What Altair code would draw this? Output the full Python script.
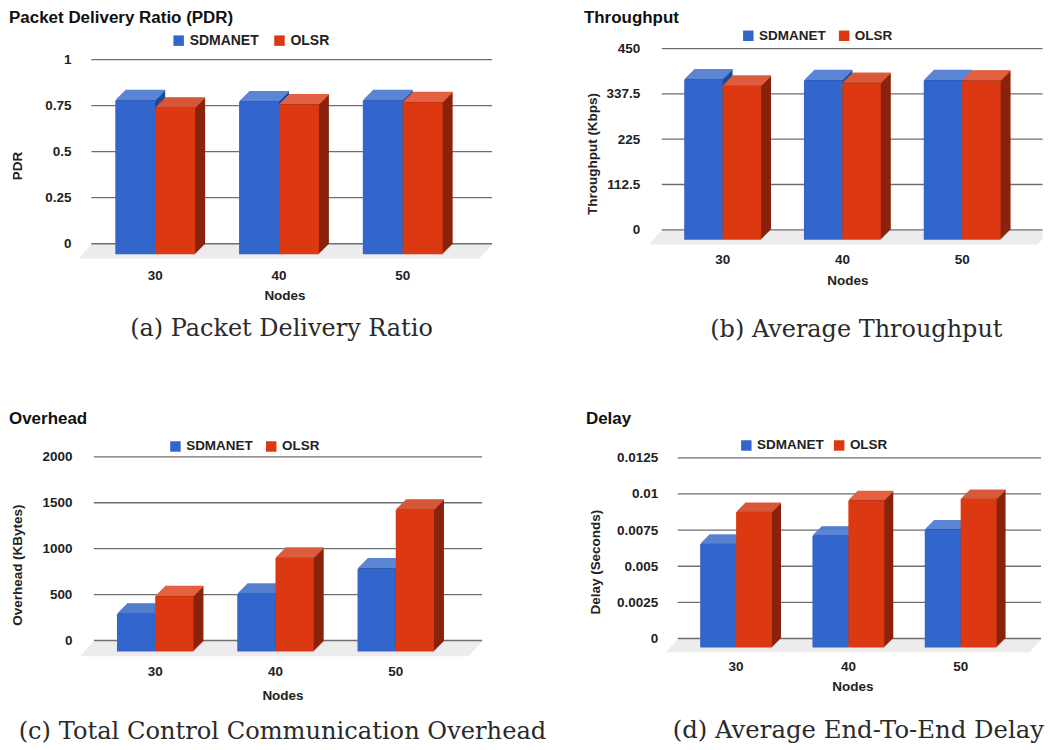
import altair as alt
import pandas as pd

nodes = ["30", "40", "50"]
series = ["SDMANET", "OLSR"]

pdr_sdmanet = [0.835, 0.829, 0.835]
pdr_olsr = [0.795, 0.813, 0.825]
pdr_ticks = [0, 0.25, 0.5, 0.75, 1]

tput_sdmanet = [398, 396, 396]
tput_olsr = [382, 389, 395]
tput_ticks = [0, 112.5, 225, 337.5, 450]

ovh_sdmanet = [410, 627, 902]
ovh_olsr = [601, 1018, 1543]
ovh_ticks = [0, 500, 1000, 1500, 2000]

delay_sdmanet = [0.00716, 0.00773, 0.00815]
delay_olsr = [0.00937, 0.01017, 0.01027]
delay_ticks = [0, 0.0025, 0.005, 0.0075, 0.01, 0.0125]

BLUE, BLUE_TOP, BLUE_SIDE = "#3366cc", "#5c85d6", "#1f4a96"
RED, RED_TOP, RED_SIDE = "#dc3912", "#e36041", "#8a230c"
FONT = "Liberation Sans"
SERIF = "DejaVu Serif"
INK = "#222222"
GRID = "#6f6f6f"
FLOOR = "#ececec"

FRAME_W = [560, 477]
FRAME_H = [242, 250]
ORIGIN_X = [8, 568]
ORIGIN_Y = [8, 400]
RIGHT_LIMIT = 1044.5


def panel(col, row, sd, ol, ticks, title, ylabel, caption, L):
    ox, oy = ORIGIN_X[col], ORIGIN_Y[row]
    W, H = FRAME_W[col], FRAME_H[row]
    x0, x1 = L["gx"][0] - ox, L["gx"][1] - ox
    gx1 = min(L["gx"][1], RIGHT_LIMIT) - ox
    ytop, yzero = L["gy"][0] - oy, L["gy"][1] - oy
    step, bw = L["step"], L["bw"]
    fx, fy, dx, dy = L["fx"], L["fy"], L["dx"], L["dy"]

    df = pd.DataFrame(
        {
            "node": nodes * 2,
            "series": [series[0]] * 3 + [series[1]] * 3,
            "v": list(sd) + list(ol),
        }
    )
    tick_df = pd.DataFrame({"t": ticks})

    pad_outer = ((x1 - x0) - 3 * step) / (2 * step)
    pad_off = (step / bw - 2) / 2

    x_axis = alt.Axis(
        title="Nodes",
        domain=False,
        ticks=False,
        grid=False,
        labelAngle=0,
        labelPadding=L["xlab"] - 6 - H - oy,
        labelFont=FONT,
        labelFontWeight="bold",
        labelFontSize=13.5,
        labelColor=INK,
        titleFont=FONT,
        titleFontWeight="bold",
        titleFontSize=13.5,
        titleColor=INK,
        titleX=L["nodes"][0] - ox,
        titleY=L["nodes"][1] - oy - H - 6,
    )
    y_axis = alt.Axis(
        title=ylabel,
        values=ticks,
        labelExpr="'' + datum.value",
        domain=False,
        ticks=False,
        grid=False,
        offset=-(L["ylab"] - ox),
        labelPadding=0,
        labelFont=FONT,
        labelFontWeight="bold",
        labelFontSize=13.5,
        labelColor=INK,
        titleFont=FONT,
        titleFontWeight="bold",
        titleFontSize=13.5,
        titleColor=INK,
        titleX=L["ytitle"][0] - L["ylab"] + 8.5,
        titleY=L["ytitle"][1] - oy,
    )

    def xenc(shift, axis=None):
        return alt.X(
            "node:N",
            sort=nodes,
            scale=alt.Scale(
                range=[x0 + shift, x1 + shift], paddingInner=0, paddingOuter=pad_outer
            ),
            axis=axis,
        )

    def yenc(shift):
        return alt.Y(
            "v:Q",
            stack=None,
            scale=alt.Scale(
                domain=[0, ticks[-1]], range=[yzero + shift, ytop + shift], nice=False, zero=True
            ),
            axis=None,
        )

    xoff = alt.XOffset(
        "series:N",
        sort=series,
        scale=alt.Scale(domain=series, paddingInner=0, paddingOuter=pad_off),
    )
    color = alt.Color(
        "series:N",
        scale=alt.Scale(domain=series, range=[BLUE, RED]),
        sort=series,
        legend=alt.Legend(
            title=None,
            orient="none",
            direction="horizontal",
            legendX=L["legend"][0] - ox,
            legendY=L["legend"][1] - oy - 8,
            symbolType="square",
            symbolSize=110,
            symbolStrokeWidth=0,
            labelFont=FONT,
            labelFontWeight="bold",
            labelFontSize=L["legend"][3],
            labelColor=INK,
            labelOffset=4,
            columnPadding=L["legend"][2],
        ),
    )
    grid_y = alt.Scale(domain=[0, ticks[-1]], range=[yzero, ytop], nice=False, zero=True)

    layers = []
    # floor
    depth = int(round(fy + 4))
    for k in range(depth, 0, -1):
        shift = (k - 1) * (depth - 1) / depth
        layers.append(
            alt.Chart(tick_df.head(1))
            .mark_rule(color=FLOOR, strokeWidth=1.4, yOffset=k)
            .encode(
                y=alt.Y("t:Q", scale=grid_y, axis=None),
                x=alt.value(x0 - shift),
                x2=alt.value(min(x1 - shift, gx1)),
            )
        )
    # gridlines and the y axis
    layers.append(
        alt.Chart(tick_df)
        .mark_rule(color=GRID, strokeWidth=1.3)
        .encode(
            y=alt.Y("t:Q", scale=grid_y, axis=y_axis),
            x=alt.value(x0),
            x2=alt.value(gx1),
        )
    )

    # bars, back to front: blue first, then red overlapping its side face
    for i, (name, top_c, side_c) in enumerate(
        [(series[0], BLUE_TOP, BLUE_SIDE), (series[1], RED_TOP, RED_SIDE)]
    ):
        base = alt.Chart(df).transform_filter(alt.datum.series == name)
        n = int(dx)
        for k in range(n, 0, -1):
            sx = fx + k * dx / n
            sy = fy - k * dy / n
            layers.append(
                base.mark_bar(color=side_c).encode(
                    x=xenc(sx), xOffset=xoff, y=yenc(sy), y2=alt.datum(0)
                )
            )
            layers.append(
                base.mark_bar(color=top_c, stroke=top_c, strokeWidth=1.3).encode(
                    x=xenc(sx), xOffset=xoff, y=yenc(sy), y2="v:Q"
                )
            )
        layers.append(
            base.mark_bar().encode(
                x=xenc(fx, x_axis if i == 0 else None),
                xOffset=xoff,
                y=yenc(fy),
                y2=alt.datum(0),
                color=color,
            )
        )

    # caption
    layers.append(
        alt.Chart(tick_df.head(1))
        .mark_text(
            text=caption,
            font=SERIF,
            fontSize=L["capsize"],
            color="#2a2a2a",
            align="center",
            baseline="middle",
        )
        .encode(x=alt.value(L["cap"][0] - ox), y=alt.value(L["cap"][1] - oy))
    )
    # chart title
    layers.append(
        alt.Chart(tick_df.head(1))
        .mark_text(
            text=title,
            font=FONT,
            fontWeight="bold",
            fontSize=17,
            color="#111111",
            align="left",
            baseline="middle",
        )
        .encode(x=alt.value(L["title"][0] - ox), y=alt.value(L["title"][1] - oy))
    )
    return (
        alt.layer(*layers)
        .resolve_scale(x="independent", y="independent", xOffset="independent")
        .resolve_axis(x="independent", y="independent")
        .properties(width=W, height=H)
    )


a = panel(0, 0, pdr_sdmanet, pdr_olsr, pdr_ticks, "Packet Delivery Ratio (PDR)", "PDR",
          "(a) Packet Delivery Ratio",
          dict(gx=(91.5, 493), gy=(59, 243.5), step=124, bw=40, fx=-12.75, fy=10.5, dx=10, dy=10,
               xlab=274, nodes=(285, 294), ylab=71, ytitle=(16, 165), legend=(172, 41, 13, 14),
               cap=(282, 329), capsize=24, title=(9, 17)))
b = panel(1, 0, tput_sdmanet, tput_olsr, tput_ticks, "Throughput", "Throughput (Kbps)",
          "(b) Average Throughput",
          dict(gx=(663, 1052), gy=(48, 229.5), step=120, bw=38.5, fx=-13.5, fy=10, dx=10, dy=10,
               xlab=258, nodes=(849, 279), ylab=641, ytitle=(592, 153), legend=(743, 36, 11, 13.5),
               cap=(858, 330), capsize=24, title=(585, 17)))
c = panel(0, 1, ovh_sdmanet, ovh_olsr, ovh_ticks, "Overhead", "Overhead (KBytes)",
          "(c) Total Control Communication Overhead",
          dict(gx=(94, 483), gy=(457, 641), step=120.5, bw=38.3, fx=-12.5, fy=11, dx=10, dy=10,
               xlab=671, nodes=(283, 695), ylab=72, ytitle=(16, 565), legend=(169, 447.5, 11, 13.5),
               cap=(283, 733), capsize=24.2, title=(9, 419)))
d = panel(1, 1, delay_sdmanet, delay_olsr, delay_ticks, "Delay", "Delay (Seconds)",
          "(d) Average End-To-End Delay",
          dict(gx=(679, 1043), gy=(458, 639), step=112.5, bw=36, fx=-11, fy=9, dx=9, dy=9,
               xlab=666, nodes=(854, 686), ylab=659, ytitle=(595, 562), legend=(741, 446.5, 8, 13.5),
               cap=(860, 732), capsize=24.4, title=(587, 419)))

row1 = alt.hconcat(a, b, spacing=0, bounds="flush").resolve_scale(color="independent")
row2 = alt.hconcat(c, d, spacing=0, bounds="flush").resolve_scale(color="independent")
chart = (
    alt.vconcat(row1, row2, spacing=392, bounds="flush")
    .properties(padding=0, background="white")
    .configure_view(stroke=None)
)

chart.save("out.html", embed_options={"renderer": "svg", "actions": False})
